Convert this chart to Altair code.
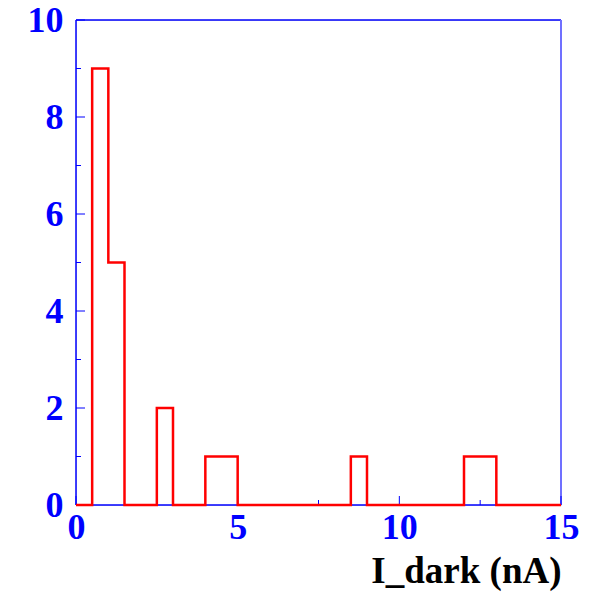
import altair as alt
import pandas as pd

# Histogram: bin edges (width 0.5) and counts
bin_edges = [i * 0.5 for i in range(31)]  # 0 .. 15
counts = [0, 9, 5, 0, 0, 2, 0, 0, 1, 1,
          0, 0, 0, 0, 0, 0, 0, 1, 0, 0,
          0, 0, 0, 0, 1, 1, 0, 0, 0, 0]

x_major = [0, 5, 10, 15]
x_minor = [2.5, 7.5, 12.5]
y_major = [0, 2, 4, 6, 8, 10]
y_minor = [1, 3, 5, 7, 9]

hist = pd.DataFrame({"x": bin_edges, "y": counts + [0]})

W, H = 485, 485
BLUE = "#0000ff"
FONT = "Liberation Serif"

xs = alt.Scale(domain=[0, 15], nice=False, zero=False)
ys = alt.Scale(domain=[0, 10], nice=False)

line = alt.Chart(hist).mark_line(
    interpolate="step-after", color="#ff0000", strokeWidth=2.5
).encode(
    x=alt.X("x:Q", scale=xs, axis=alt.Axis(
        values=x_major, format="d", ticks=False, domain=False, grid=False,
        labelFont=FONT, labelFontWeight="bold", labelFontSize=36, labelColor=BLUE,
        labelPadding=5, labelFlush=False,
        title="I_dark (nA)", titleFont=FONT, titleFontWeight="bold", titleFontSize=37,
        titleColor="black", titleAnchor="end", titlePadding=8)),
    y=alt.Y("y:Q", scale=ys, axis=alt.Axis(
        values=y_major, format="d", ticks=False, domain=False, grid=False,
        labelFont=FONT, labelFontWeight="bold", labelFontSize=36, labelColor=BLUE,
        labelPadding=13, labelFlush=False, title=None)),
)

xmaj = alt.Chart(pd.DataFrame({"v": x_major})).mark_rule(color=BLUE, strokeWidth=1).encode(
    x=alt.X("v:Q", scale=xs), y=alt.value(H), y2=alt.value(H - 9))
xmin = alt.Chart(pd.DataFrame({"v": x_minor})).mark_rule(color=BLUE, strokeWidth=1).encode(
    x=alt.X("v:Q", scale=xs), y=alt.value(H), y2=alt.value(H - 5))
ymaj = alt.Chart(pd.DataFrame({"v": y_major})).mark_rule(color=BLUE, strokeWidth=1).encode(
    y=alt.Y("v:Q", scale=ys), x=alt.value(0), x2=alt.value(9))
ymin = alt.Chart(pd.DataFrame({"v": y_minor})).mark_rule(color=BLUE, strokeWidth=1).encode(
    y=alt.Y("v:Q", scale=ys), x=alt.value(0), x2=alt.value(5))

frame = alt.Chart(pd.DataFrame({"d": [0]}))
top = frame.mark_rule(color=BLUE, strokeWidth=1.5).encode(
    x=alt.value(0), x2=alt.value(W), y=alt.value(0))
left = frame.mark_rule(color=BLUE, strokeWidth=1.5).encode(
    x=alt.value(0), y=alt.value(0), y2=alt.value(H))
right = frame.mark_rule(color="#7070ff", strokeWidth=2).encode(
    x=alt.value(W), y=alt.value(0), y2=alt.value(H))
bottom = frame.mark_rule(color=BLUE, strokeWidth=1.5).encode(
    x=alt.value(0), x2=alt.value(W), y=alt.value(H))

chart = alt.layer(top, left, right, bottom, xmaj, xmin, ymaj, ymin, line).properties(
    width=W, height=H,
    autosize=alt.AutoSizeParams(type="none"),
    padding={"left": 76, "top": 20, "right": 43, "bottom": 90},
).configure_view(strokeWidth=0).configure(background="white")

chart.save("out.html", embed_options={"renderer": "svg", "actions": False})
